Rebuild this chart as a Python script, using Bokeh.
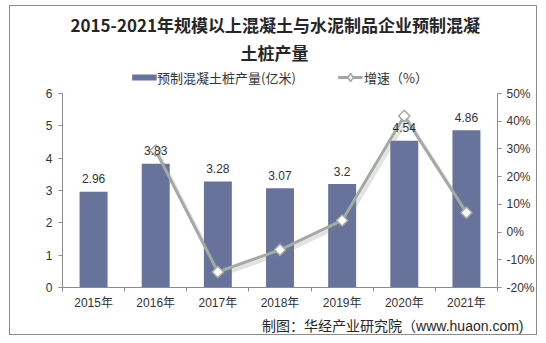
import numpy as np
from bokeh.plotting import figure
from bokeh.models import (Range1d, LinearAxis, FixedTicker, PrintfTickFormatter, LabelSet,
                          ColumnDataSource, Legend, LegendItem, Title)
from bokeh.core.properties import value
from bokeh.embed import file_html
from bokeh.resources import INLINE

# ---- data ----
years = ["2015年", "2016年", "2017年", "2018年", "2019年", "2020年", "2021年"]
output = [2.96, 3.83, 3.28, 3.07, 3.2, 4.54, 4.86]          # 预制混凝土桩产量 (亿米)
growth_years = ["2016年", "2017年", "2018年", "2019年", "2020年", "2021年"]
growth = [29.4, -14.4, -6.4, 4.2, 41.9, 7.0]                 # 增速 (%)
left_ticks = [0, 1, 2, 3, 4, 5, 6]
right_ticks = [-20, -10, 0, 10, 20, 30, 40, 50]
title_line1 = "2015-2021年规模以上混凝土与水泥制品企业预制混凝"
title_line2 = "土桩产量"
bar_name = "预制混凝土桩产量(亿米)"
line_name = "增速（%）"
source_text = "制图：华经产业研究院（www.huaon.com)"

# canvas (inside the 1px border)
W, H = 528, 330
L, R, T, B = 52, 41, 60, 49
AXIS_PX = 194                     # pixel height of the 0..6 axis span
FRAME_PX = H - T - B
XMIN, XMAX = -0.5, len(years) - 0.5
Y0, Y1 = left_ticks[0], left_ticks[-1]
G0, G1 = right_ticks[0], right_ticks[-1]
ytop = Y0 + (Y1 - Y0) * FRAME_PX / AXIS_PX
gtop = G0 + (G1 - G0) * FRAME_PX / AXIS_PX

CJK = "Noto Sans CJK SC"
MIX = "Liberation Sans, Noto Sans CJK SC"
BAR = "#67739B"
LINE = "#A3AAA3"
AX = "#8C8C8C"
TXT = "#333333"

p = figure(width=W, height=H, output_backend="svg", toolbar_location=None,
           x_range=Range1d(XMIN, XMAX), y_range=Range1d(Y0, ytop),
           min_border_left=L, min_border_right=R, min_border_top=T, min_border_bottom=B,
           margin=(5, 0, 0, 9), styles={"border": "1px solid #8C8C8C"})
p.outline_line_color = None
p.xgrid.visible = False
p.ygrid.visible = False
p.background_fill_color = "white"
p.border_fill_color = "white"

xi = list(range(len(years)))
gxi = [years.index(y) for y in growth_years]

src = ColumnDataSource(dict(x=xi, y=output, lab=[str(v) for v in output]))
bars = p.vbar(x="x", top="y", width=0.45, bottom=0, source=src, fill_color=BAR, line_color=None)

p.extra_y_ranges = {"g": Range1d(G0, gtop)}
gsrc = ColumnDataSource(dict(x=gxi, y=growth))
# soft shadow under the line
p.line(x=[v + 0.04 for v in gxi], y=[v - 1.1 for v in growth], y_range_name="g",
       line_color="#808080", line_alpha=0.22, line_width=4)
ln = p.line(x="x", y="y", source=gsrc, y_range_name="g", line_color=LINE, line_width=3)
# small diamonds hidden under the markers: used for the legend symbol
lg_mk = p.scatter(x="x", y="y", source=gsrc, y_range_name="g", marker="diamond", size=5,
                  fill_color="white", line_color=LINE, line_width=1.5)
mk = p.scatter(x="x", y="y", source=gsrc, y_range_name="g", marker="square", angle=np.pi / 4,
               size=8, fill_color="white", line_color=LINE, line_width=1.5)
# legend swatch for the bars (thin bar like the original legend); a single point draws nothing
bar_swatch = p.line(x=[XMIN], y=[Y0], line_color=BAR, line_width=6, line_cap="butt")

# axes
yax = p.yaxis[0]
yax.ticker = FixedTicker(ticks=left_ticks)
yax.bounds = (Y0, Y1)
yax.axis_line_color = AX
yax.major_tick_line_color = AX
yax.major_tick_in = 0
yax.major_tick_out = 4
yax.minor_tick_line_color = None
yax.major_label_standoff = 6
yax.major_label_text_font = "Liberation Sans"
yax.major_label_text_font_size = "12px"
yax.major_label_text_color = TXT

rax = LinearAxis(y_range_name="g", ticker=FixedTicker(ticks=right_ticks),
                 formatter=PrintfTickFormatter(format="%d%%"), bounds=(G0, G1))
rax.axis_line_color = AX
rax.major_tick_line_color = AX
rax.major_tick_in = 0
rax.major_tick_out = 4
rax.minor_tick_line_color = None
rax.major_label_standoff = 5
rax.major_label_text_font = "Liberation Sans"
rax.major_label_text_font_size = "12px"
rax.major_label_text_color = TXT
p.add_layout(rax, "right")

xax = p.xaxis[0]
xax.ticker = FixedTicker(ticks=xi, minor_ticks=[i - 0.5 for i in range(len(years) + 1)])
xax.major_label_overrides = {i: y for i, y in zip(xi, years)}
xax.axis_line_color = AX
xax.major_tick_line_color = None
xax.major_tick_in = 0
xax.major_tick_out = 0
xax.minor_tick_line_color = AX
xax.minor_tick_in = 0
xax.minor_tick_out = 4
xax.major_label_standoff = 4
xax.major_label_text_font = MIX
xax.major_label_text_font_size = "12px"
xax.major_label_text_color = TXT

# bar value labels
p.add_layout(LabelSet(x="x", y="y", text="lab", source=src, y_offset=13, text_align="center",
                      text_baseline="middle", text_font=value("Liberation Sans"),
                      text_font_size="12px", text_color=TXT))

# legend (top of the frame, above the axes' extent)
lg = Legend(items=[LegendItem(label=bar_name, renderers=[bar_swatch]),
                   LegendItem(label=line_name, renderers=[ln, lg_mk])],
            location="top_center", orientation="horizontal", padding=0, margin=1,
            spacing=42, border_line_color=None, background_fill_alpha=0, glyph_width=25,
            glyph_height=20, label_height=20, label_standoff=1, label_text_font=CJK,
            label_text_font_size="13px", label_text_color=TXT)
p.add_layout(lg, "center")

# title (two lines)
p.title.text = title_line1
p.title.align = "left"
p.title.offset = 8
p.title.text_font = CJK
p.title.text_font_style = "bold"
p.title.text_font_size = "17px"
p.title.text_color = "#262626"
p.title.standoff = 0
p.add_layout(Title(text=title_line2, align="left", offset=178, standoff=3, text_font=CJK,
                   text_font_style="bold", text_font_size="17px", text_color="#262626"),
             "above")

# source note below
p.add_layout(Title(text=source_text, align="right", offset=-26, standoff=6, text_font=MIX,
                   text_font_size="14px", text_font_style="normal", text_color="#262626"),
             "below")

open("out.html", "w").write(file_html(p, INLINE))
